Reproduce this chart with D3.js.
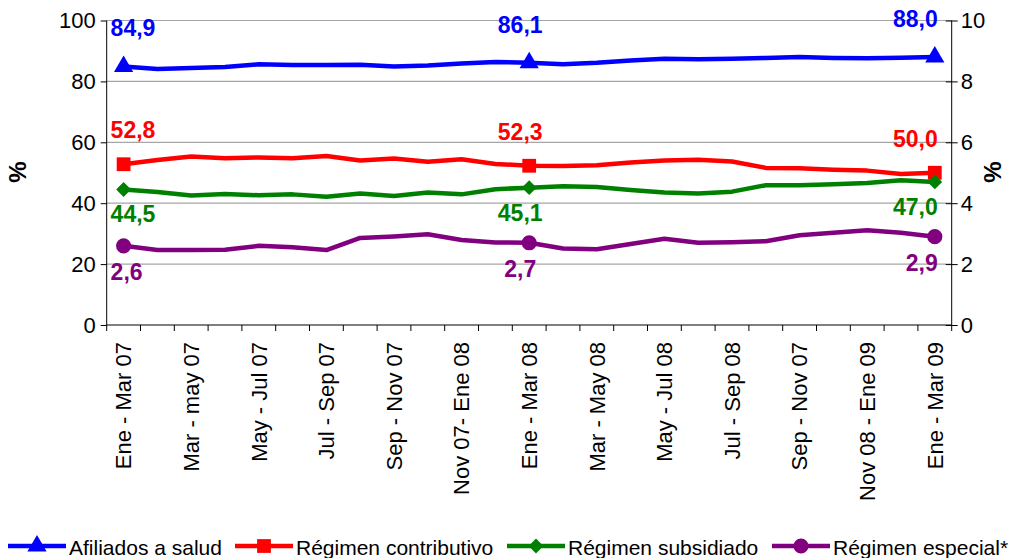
<!DOCTYPE html>
<html>
<head>
<meta charset="utf-8">
<script src="https://cdn.jsdelivr.net/npm/d3@7"></script>
<style>
  body { margin: 0; background: #fff; }
  svg { display: block; font-family: Arial, "Liberation Sans", sans-serif; }
</style>
</head>
<body>
<svg id="chart" width="1009" height="558"></svg>
<script>
// labels shown on every other period (rolling quarters)
const tickLabels = ["Ene - Mar 07", "Mar - may 07", "May - Jul 07", "Jul - Sep 07", "Sep - Nov 07",
  "Nov 07- Ene 08", "Ene - Mar 08", "Mar - May 08", "May - Jul 08", "Jul - Sep 08",
  "Sep - Nov 07", "Nov 08 - Ene 09", "Ene - Mar 09"];

const afiliados = [84.9, 84.1, 84.4, 84.7, 85.6, 85.4, 85.4, 85.5, 84.9, 85.2, 85.9, 86.4, 86.1,
  85.6, 86.1, 86.9, 87.4, 87.3, 87.4, 87.7, 88.0, 87.7, 87.6, 87.8, 88.0];
const contributivo = [52.8, 54.2, 55.3, 54.8, 55.0, 54.8, 55.5, 54.0, 54.7, 53.6, 54.4, 52.9, 52.3,
  52.2, 52.5, 53.4, 54.0, 54.3, 53.7, 51.6, 51.5, 51.0, 50.7, 49.6, 50.0];
const subsidiado = [44.5, 43.7, 42.5, 43.0, 42.6, 42.9, 42.1, 43.2, 42.4, 43.5, 42.9, 44.6, 45.1,
  45.6, 45.3, 44.3, 43.5, 43.2, 43.8, 45.9, 45.9, 46.2, 46.6, 47.5, 47.0];
const especial = [2.6, 2.46, 2.46, 2.47, 2.6, 2.55, 2.46, 2.86, 2.91, 2.98, 2.79, 2.71, 2.7,
  2.51, 2.49, 2.66, 2.83, 2.7, 2.72, 2.75, 2.95, 3.03, 3.11, 3.03, 2.9];

const markedPoints = [0, 12, 24];
const leftTicks = [0, 20, 40, 60, 80, 100];
const rightTicks = [0, 2, 4, 6, 8, 10];

const svg = d3.select("#chart");
const plotLeft = 106.7, plotRight = 951.7, plotTop = 20.5, plotBottom = 325;

const x = d3.scaleBand().domain(d3.range(afiliados.length)).range([plotLeft, plotRight]);
const cx = i => x(i) + x.bandwidth() / 2;
const yL = d3.scaleLinear().domain([0, 100]).range([plotBottom, plotTop]);
const yR = d3.scaleLinear().domain([0, 10]).range([plotBottom, plotTop]);

// square diamond (Excel style), d3's symbolDiamond is too narrow
const squareDiamond = {
  draw(context, size) {
    const r = Math.sqrt(size / 2);
    context.moveTo(0, -r);
    context.lineTo(r, 0);
    context.lineTo(0, r);
    context.lineTo(-r, 0);
    context.closePath();
  }
};

const series = [
  {name: "Afiliados a salud", values: afiliados, y: yL, color: "#0000ff", marker: d3.symbolTriangle, size: 160, dy: -30},
  {name: "Régimen contributivo", values: contributivo, y: yL, color: "#ff0000", marker: d3.symbolSquare, size: 190, dy: -26},
  {name: "Régimen subsidiado", values: subsidiado, y: yL, color: "#008000", marker: squareDiamond, size: 110, dy: 33},
  {name: "Régimen especial*", values: especial, y: yR, color: "#800080", marker: d3.symbolCircle, size: 180, dy: 34}
];

// gridlines
svg.append("g")
  .selectAll("line")
  .data(leftTicks.filter(d => d > 0))
  .join("line")
  .attr("x1", plotLeft).attr("x2", plotRight)
  .attr("y1", d => yL(d)).attr("y2", d => yL(d))
  .attr("stroke", "#a6a6a6").attr("stroke-width", 1.2);

// left axis
const gL = svg.append("g")
  .attr("transform", `translate(${plotLeft},0)`)
  .call(d3.axisLeft(yL).tickValues(leftTicks).tickSize(6).tickPadding(5));
gL.selectAll("text").attr("font-size", 22).attr("font-family", "Arial, 'Liberation Sans', sans-serif").attr("fill", "#000");
gL.select(".domain").attr("d", `M0,${plotTop}V${plotBottom}`);

// right axis
const gR = svg.append("g")
  .attr("transform", `translate(${plotRight},0)`)
  .call(d3.axisRight(yR).tickValues(rightTicks).tickSize(6).tickPadding(3));
gR.selectAll("text").attr("font-size", 22).attr("font-family", "Arial, 'Liberation Sans', sans-serif").attr("fill", "#000");
gR.selectAll(".tick line").attr("x1", -6);
gR.select(".domain").attr("d", `M0,${plotTop}V${plotBottom}`);

// x axis
svg.append("line")
  .attr("x1", plotLeft).attr("x2", plotRight)
  .attr("y1", plotBottom).attr("y2", plotBottom)
  .attr("stroke", "#000");
svg.append("g")
  .selectAll("line")
  .data(d3.range(afiliados.length + 1))
  .join("line")
  .attr("x1", i => plotLeft + i * x.bandwidth())
  .attr("x2", i => plotLeft + i * x.bandwidth())
  .attr("y1", plotBottom).attr("y2", plotBottom + 6)
  .attr("stroke", "#000");
svg.append("g")
  .selectAll("text")
  .data(tickLabels)
  .join("text")
  .attr("transform", (d, i) => `translate(${cx(i * 2)},${plotBottom + 17}) rotate(-90)`)
  .attr("text-anchor", "end")
  .attr("dy", "0.35em")
  .attr("font-size", 22)
  .text(d => d);

// axis titles
svg.append("text")
  .attr("transform", "translate(18,172) rotate(-90)")
  .attr("text-anchor", "middle").attr("dy", "0.35em")
  .attr("font-size", 24).attr("font-weight", "bold")
  .text("%");
svg.append("text")
  .attr("transform", "translate(993,172) rotate(-90)")
  .attr("text-anchor", "middle").attr("dy", "0.35em")
  .attr("font-size", 24).attr("font-weight", "bold")
  .text("%");

// lines, markers, value labels
const fmt = v => d3.format(".1f")(v).replace(".", ",");
series.forEach(s => {
  const line = d3.line().x((d, i) => cx(i)).y(d => s.y(d));
  svg.append("path")
    .datum(s.values)
    .attr("d", line)
    .attr("fill", "none")
    .attr("stroke", s.color)
    .attr("stroke-width", 4.5)
    .attr("stroke-linejoin", "round");

  svg.append("g")
    .selectAll("path")
    .data(markedPoints)
    .join("path")
    .attr("d", d3.symbol().type(s.marker).size(s.size))
    .attr("transform", i => `translate(${cx(i)},${s.y(s.values[i])})`)
    .attr("fill", s.color);

  svg.append("g")
    .selectAll("text")
    .data(markedPoints)
    .join("text")
    .attr("x", (i, k) => cx(i) + [-13, -9, 3][k])
    .attr("y", i => s.y(s.values[i]) + s.dy)
    .attr("text-anchor", (i, k) => ["start", "middle", "end"][k])
    .attr("font-size", 23)
    .attr("font-weight", "bold")
    .attr("fill", s.color)
    .text(i => fmt(s.values[i]));
});

// legend
const legendX = [8, 235, 507, 772];
const legend = svg.append("g")
  .selectAll("g")
  .data(series)
  .join("g")
  .attr("transform", (d, i) => `translate(${legendX[i]},546)`);
legend.append("line")
  .attr("x1", 0).attr("x2", 58)
  .attr("stroke", d => d.color).attr("stroke-width", 4.5);
legend.append("path")
  .attr("d", d => d3.symbol().type(d.marker).size(d.size)())
  .attr("transform", "translate(29,0)")
  .attr("fill", d => d.color);
legend.append("text")
  .attr("x", 61).attr("y", 9)
  .attr("font-size", 21)
  .text(d => d.name);
</script>
</body>
</html>
